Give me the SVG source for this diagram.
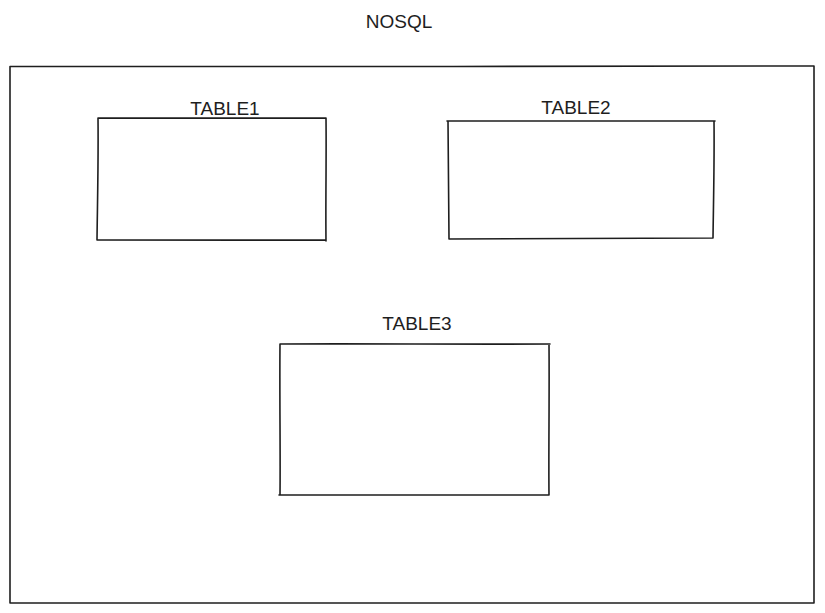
<svg xmlns="http://www.w3.org/2000/svg" width="825" height="613" viewBox="0 0 825 613">
<style>
.box{fill:none;stroke:#1e1e1e;stroke-width:1.6;stroke-linecap:round;stroke-linejoin:round}
.lbl{font-family:"Liberation Sans",Arial,sans-serif;font-size:19px;fill:#1e1e1e;text-anchor:middle}
</style>
<rect width="825" height="613" fill="#ffffff"/>
<g id="title"><text class="lbl" x="399" y="28">NOSQL</text></g>
<g id="nosql">
<path class="box" d="M10 66.5 C250 66 560 67 814 66 M814 66 C814.5 250 813.5 450 814 603 M814 603 C560 602.5 250 603.5 10 603 M10 603 C10.5 420 9.5 240 10 66.5"/>
</g>
<g id="table1">
<text class="lbl" x="225" y="115">TABLE1</text>
<path class="box" d="M98 118 C170 117.5 250 118.5 326 118 M326 118 C326.5 160 325.5 200 326 241 M326 240 C250 240.5 170 239.5 97 240 M97 240 C97.5 200 98.5 160 98 118"/>
</g>
<g id="table2">
<text class="lbl" x="576" y="114">TABLE2</text>
<path class="box" d="M447 121 C540 120.5 630 121.5 715 121 M714 121 C714.5 160 713.5 200 713 238 M713 238 C630 237.5 540 238.5 449 239 M449 239 C448.5 200 448.5 160 448 121"/>
</g>
<g id="table3">
<text class="lbl" x="417" y="330">TABLE3</text>
<path class="box" d="M280 344 C370 343.5 460 344.5 550 344 M549 344 C549.5 400 548.5 450 549 495 M549 495 C460 494.5 370 495.5 279 495 M280 495 C280.5 450 279.5 400 280 344"/>
</g>
</svg>
